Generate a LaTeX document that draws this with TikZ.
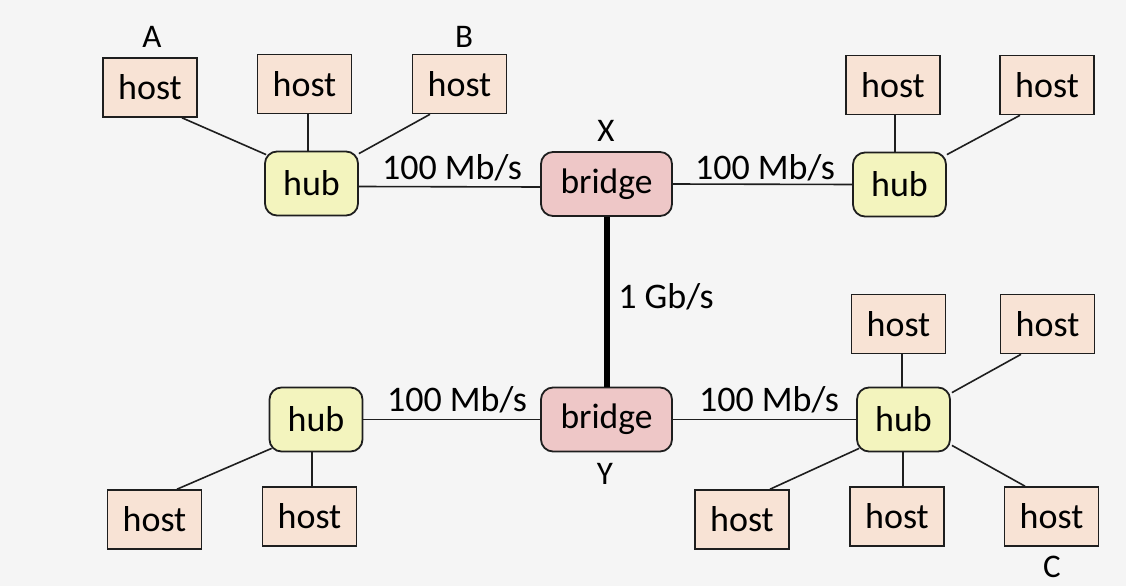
\documentclass[tikz,border=0pt]{standalone}
\usepackage{fontspec}
\setmainfont{Carlito}
\definecolor{bgcol}{HTML}{F5F5F5}
\definecolor{hostfill}{HTML}{F8E3D5}
\definecolor{hubfill}{HTML}{F3F4BE}
\definecolor{bridgefill}{HTML}{EEC7C7}
\definecolor{edge}{HTML}{1E1E1E}
\begin{document}
\begin{tikzpicture}[x=1pt,y=-1pt,
  host/.style={draw=edge,line width=1.6pt,fill=hostfill,rectangle,
    minimum width=94pt,minimum height=59pt,inner sep=0pt,
    font=\fontsize{36}{42}\selectfont},
  hubbox/.style={draw=edge,line width=1.8pt,fill=hubfill,rectangle,
    rounded corners=12pt,minimum width=93pt,minimum height=64pt,inner sep=0pt,
    font=\fontsize{36}{42}\selectfont},
  bridgebox/.style={draw=edge,line width=1.8pt,fill=bridgefill,rectangle,
    rounded corners=12pt,minimum width=131pt,minimum height=64pt,inner sep=0pt,
    font=\fontsize{35.5}{42}\selectfont},
  link/.style={draw=edge,line width=1.6pt},
  rate/.style={inner sep=0pt,font=\fontsize{36}{42}\selectfont},
  tag/.style={inner sep=0pt,font=\fontsize{33}{38}\selectfont}]

\fill[bgcol] (0,0) rectangle (1126,586);
\useasboundingbox (0,0) rectangle (1126,586);

% bridges
\node[bridgebox] (bx) at (606.5,184) {bridge};
\node[bridgebox] (by) at (606.5,419.5) {bridge};
\node[tag] (lx) at (606,131) {X};
\node[tag] (ly) at (605,474) {Y};

% hubs
\node[hubbox] (htl) at (311.5,183.5) {hub};
\node[hubbox] (htr) at (899.5,184.5) {hub};
\node[hubbox] (hbl) at (316,419.5) {hub};
\node[hubbox] (hbr) at (903.5,419.5) {hub};

% hosts, top left
\node[host] (a)   at (150,87.5) {host};
\node[host] (tl2) at (304.5,84) {host};
\node[host] (b)   at (459.5,84) {host};
\node[tag] (la) at (152,37) {A};
\node[tag] (lb) at (464,37) {B};

% hosts, top right
\node[host] (tr1) at (893,85) {host};
\node[host] (tr2) at (1047,85) {host};

% hosts, bottom left
\node[host] (bl1) at (154.5,519.5) {host};
\node[host] (bl2) at (309.5,516.5) {host};

% hosts, bottom right
\node[host] (br1) at (898.5,324) {host};
\node[host] (br2) at (1047.5,324) {host};
\node[host] (br3) at (742,519.5) {host};
\node[host] (br4) at (897,516.5) {host};
\node[host] (c)   at (1051.5,516.5) {host};
\node[tag] (lc) at (1052,567) {C};

% host to hub links
\draw[link] ([xshift=32pt]a.south) -- ([xshift=2pt,yshift=-4pt]htl.north west);
\draw[link] ([xshift=3.5pt]tl2.south) -- ([xshift=-3.5pt]htl.north);
\draw[link] ([xshift=-29.5pt]b.south) -- ([yshift=-3pt]htl.north east);

\draw[link] ([xshift=2pt]tr1.south) -- ([xshift=-4.5pt]htr.north);
\draw[link] ([xshift=-27pt]tr2.south) -- ([yshift=-3pt]htr.north east);

\draw[link] ([xshift=22.5pt]bl1.north) -- ([xshift=3pt,yshift=4pt]hbl.south west);
\draw[link] ([xshift=2.5pt]bl2.north) -- ([xshift=-4pt]hbl.south);

\draw[link] ([xshift=3.5pt]br1.south) -- ([xshift=-1.5pt]hbr.north);
\draw[link] ([xshift=-26.5pt]br2.south) -- ([xshift=1pt,yshift=-6pt]hbr.north east);
\draw[link] ([xshift=28pt]br3.north) -- ([xshift=3pt,yshift=4pt]hbr.south west);
\draw[link] ([xshift=6pt]br4.north) -- ([xshift=-0.5pt]hbr.south);
\draw[link] ([xshift=-26.5pt]c.north) -- ([xshift=1pt,yshift=7pt]hbr.south east);

% hub to bridge links
\draw[link] ([yshift=-3pt]htl.east) -- ([yshift=-3pt]bx.west);
\draw[link] (bx.east) -- (htr.west);
\draw[link] (hbl.east) -- (by.west);
\draw[link] (by.east) -- (hbr.west);

% backbone between the bridges
\draw[draw=black,line width=6pt] (bx.south) -- (by.north);

% link rates
\node[rate] (r1) at (452,168) {100 Mb/s};
\node[rate] (r2) at (765,168) {100 Mb/s};
\node[rate] (r3) at (457,400) {100 Mb/s};
\node[rate] (r4) at (769,400) {100 Mb/s};
\node[rate] (r5) at (666,297) {1 Gb/s};
\end{tikzpicture}
\end{document}
